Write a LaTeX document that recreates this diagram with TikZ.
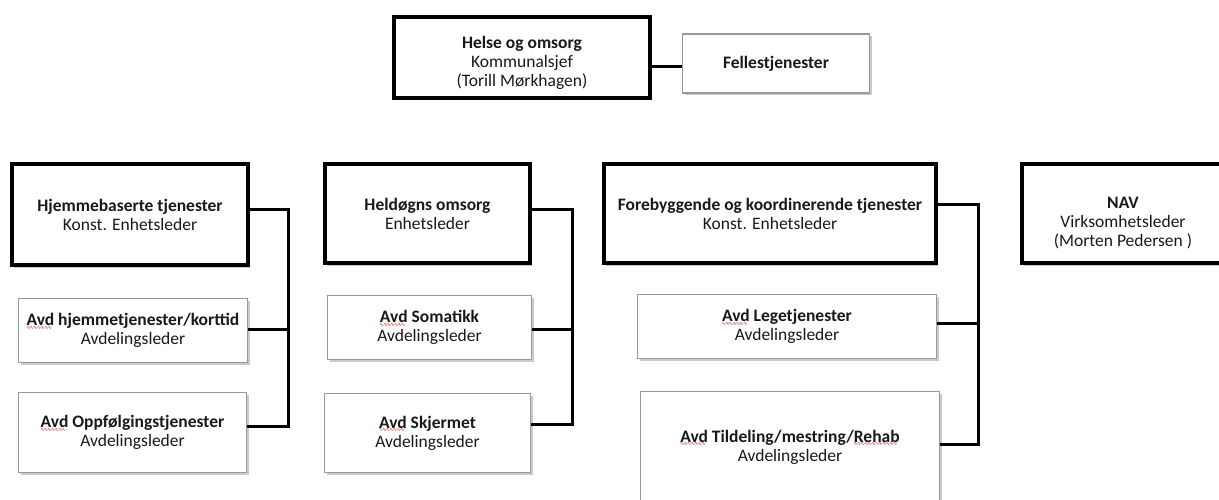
\documentclass[tikz,border=0pt]{standalone}
\usepackage{fontspec}
\setmainfont{Carlito}
\newfontfamily\wavefont{DejaVu Sans}
\usetikzlibrary{shadows}
\newcommand\spellerr[1]{\setbox0\hbox{#1}\rlap{\lower3.6pt\hbox to\wd0{\color{red!85!black}\wavefont\fontsize{5}{5}\selectfont\mdseries\leaders\hbox{\kern-0.3pt∿\kern-0.3pt}\hfill}}\box0\relax}
\tikzset{
  basebox/.style={fill=white, align=center, inner sep=2pt, text=black!90,
    font=\fontsize{17.5}{19}\selectfont,
    drop shadow={shadow xshift=2pt, shadow yshift=-2.5pt, opacity=0.35, fill=black!60}},
  thickbox/.style={basebox, draw=black, line width=4pt},
  thinbox/.style={basebox, draw=black!40, line width=1.2pt},
  conn/.style={draw=black, line width=3pt},
}
\begin{document}
\begin{tikzpicture}[x=1pt,y=-1pt]
\useasboundingbox (0,0) rectangle (1219,500);
\begin{scope}
\clip (0,0) rectangle (1219,500);
% top
\node[thickbox, minimum width=256, minimum height=81] (top) at (522,57.5)
  {\rule{0pt}{24pt}\textbf{Helse og omsorg}\\Kommunalsjef\\(Torill Mørkhagen)};
\node[thinbox, minimum width=187, minimum height=59] (fell) at (776,63.5)
  {\textbf{Fellestjenester}};
% column 1
\node[thickbox, minimum width=236, minimum height=101] (hjem) at (130,214.5)
  {\textbf{Hjemmebaserte tjenester}\\Konst. Enhetsleder};
\node[thinbox, minimum width=229, minimum height=64] (kort) at (133,330.5)
  {\textbf{\spellerr{Avd} hjemmetjenester/korttid}\\Avdelingsleder};
\node[thinbox, minimum width=228, minimum height=80] (oppf) at (132.5,432.5)
  {\textbf{\spellerr{Avd} Oppfølgingstjenester}\\Avdelingsleder};
% column 2
\node[thickbox, minimum width=205, minimum height=99] (held) at (427.5,213.5)
  {\textbf{Heldøgns omsorg}\\Enhetsleder};
\node[thinbox, minimum width=204, minimum height=64] (soma) at (429.5,327.5)
  {\textbf{\spellerr{Avd} Somatikk}\\Avdelingsleder};
\node[thinbox, minimum width=206, minimum height=79] (skje) at (427.5,433)
  {\textbf{\spellerr{Avd} Skjermet}\\Avdelingsleder};
% column 3
\node[thickbox, minimum width=332, minimum height=99] (fore) at (770,213.5)
  {\textbf{Forebyggende og koordinerende tjenester}\\Konst. Enhetsleder};
\node[thinbox, minimum width=299, minimum height=64] (lege) at (787,326.5)
  {\textbf{\spellerr{Avd} Legetjenester}\\Avdelingsleder};
\node[thinbox, minimum width=299, minimum height=111] (tild) at (790,447)
  {\textbf{\spellerr{Avd} Tildeling/mestring/\spellerr{Rehab}}\\Avdelingsleder};
% NAV
\node[thickbox, minimum width=202, minimum height=99] (nav) at (1123,213.5)
  {\rule{0pt}{30pt}\textbf{NAV}\\Virksomhetsleder\\(Morten Pedersen )};
% connector coordinates
\coordinate (b1) at (288,210);
\coordinate (b2) at (572,210);
\coordinate (b3) at (978,205);
% connectors
\draw[conn] ([yshift=-3.5pt]fell.west) -- ([yshift=-3.5pt]fell.west -| top.east);
\draw[conn] ([yshift=4.5pt]hjem.east) -- (b1) |- ([yshift=6.5pt]oppf.east);
\draw[conn] ([yshift=1.5pt]kort.east) -- ([yshift=1.5pt]kort.east -| b1);
\draw[conn] ([yshift=3.5pt]held.east) -- (b2) |- ([yshift=9pt]skje.east);
\draw[conn] ([yshift=-1.5pt]soma.east) -- ([yshift=-1.5pt]soma.east -| b2);
\draw[conn] ([yshift=8.5pt]fore.east) -- (b3) |- ([yshift=3pt]tild.east);
\draw[conn] ([yshift=3.5pt]lege.east) -- ([yshift=3.5pt]lege.east -| b3);
\end{scope}
\end{tikzpicture}
\end{document}
